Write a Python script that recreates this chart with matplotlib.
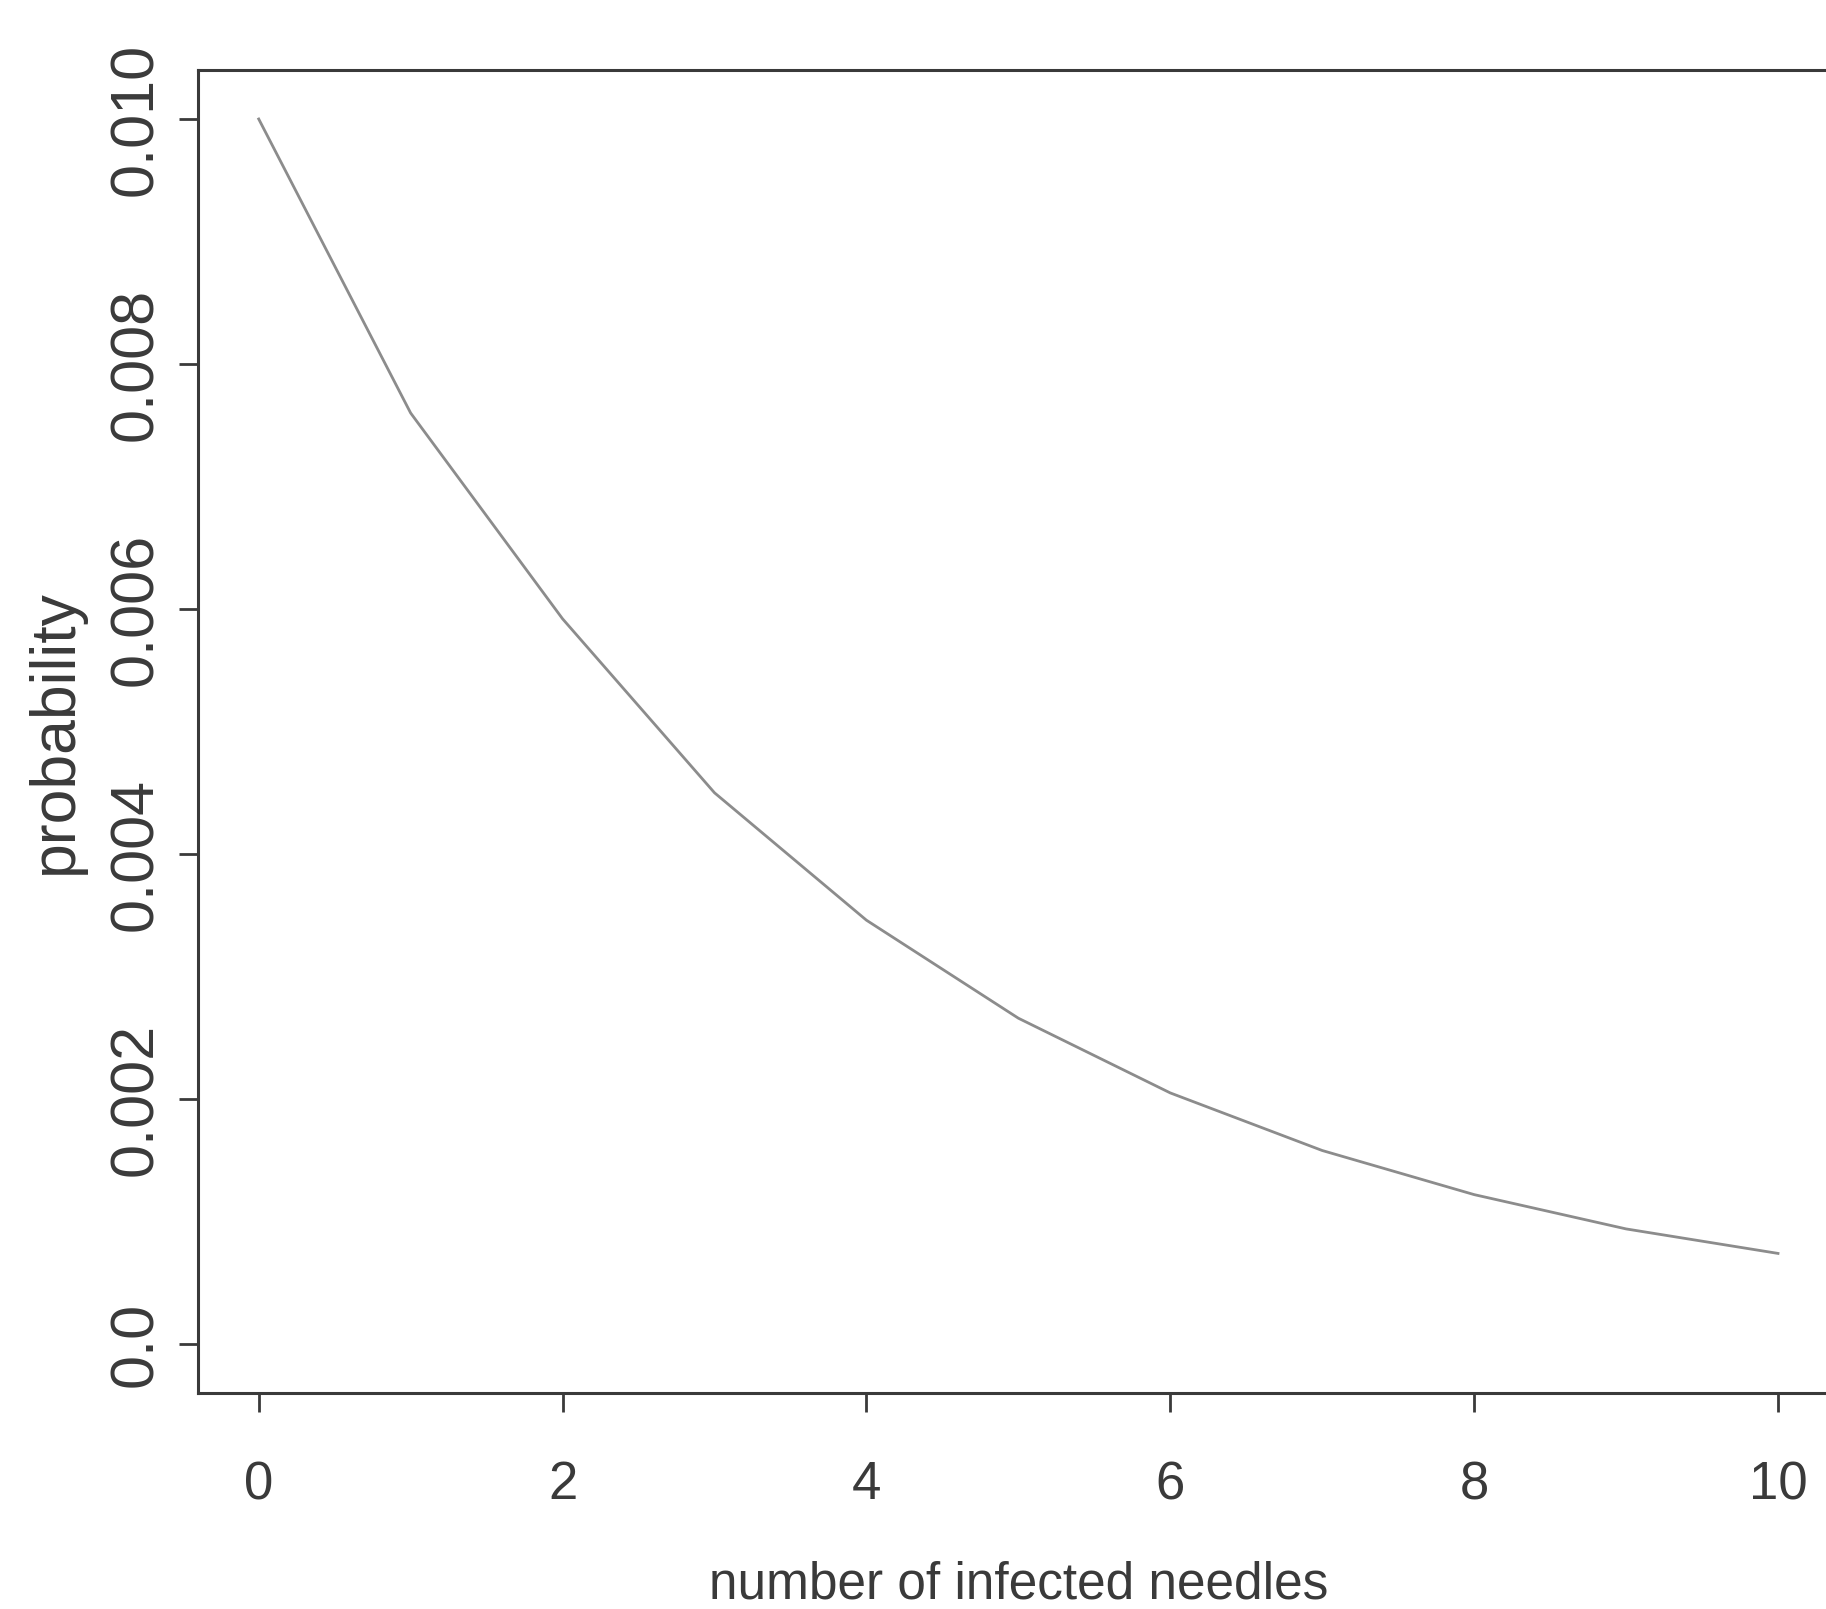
import numpy as np
import matplotlib.pyplot as plt
import matplotlib as mpl

mpl.rcParams['font.family'] = ['Liberation Sans', 'DejaVu Sans']

# values
needles = [0, 1, 2, 3, 4, 5, 6, 7, 8, 9, 10]
prob = [0.01000, 0.00760, 0.00592, 0.00450, 0.00346, 0.00266,
        0.00205, 0.00158, 0.00122, 0.00094, 0.00074]

xticks = [0, 2, 4, 6, 8, 10]
yticks = [0.0, 0.002, 0.004, 0.006, 0.008, 0.010]
ytick_labels = ['0.0', '0.002', '0.004', '0.006', '0.008', '0.010']

ink = '#3a3a3a'

fig = plt.figure(figsize=(18.26, 16.09), dpi=100)
ax = fig.add_axes([0.1084, 0.1342, 0.8986, 0.8223])

ax.plot(needles, prob, color='#8c8c8c', lw=2.0)

ax.set_xlim(-0.4, 10.4)
ax.set_ylim(-0.0004, 0.0104)
ax.set_xticks(xticks)
ax.set_xticklabels([str(t) for t in xticks], fontsize=38, color=ink)
ax.set_yticks(yticks)
ax.set_yticklabels(ytick_labels, fontsize=44, color=ink, rotation=90,
                   va='center')

ax.tick_params(axis='both', direction='out', length=13.5, width=2, color=ink)
ax.tick_params(axis='x', pad=35)
ax.tick_params(axis='y', pad=10)
for s in ax.spines.values():
    s.set_linewidth(2.2)
    s.set_color(ink)

ax.set_xlabel('number of infected needles', fontsize=37, color=ink, labelpad=36)
ax.set_ylabel('probability', fontsize=45, color=ink, labelpad=17)

fig.savefig('out.png', dpi=100)
